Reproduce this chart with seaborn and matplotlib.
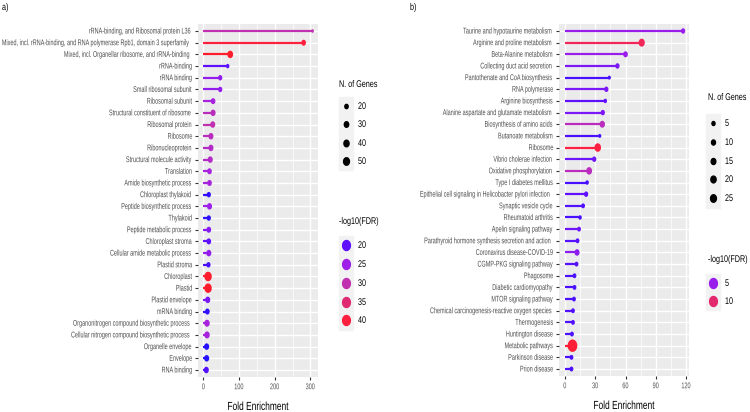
import numpy as np
import pandas as pd
import matplotlib
matplotlib.use("Agg")
import matplotlib.pyplot as plt
import seaborn as sns
from matplotlib import patheffects
from matplotlib.colors import LinearSegmentedColormap, Normalize
from matplotlib.lines import Line2D
from matplotlib.patches import Rectangle
from matplotlib.path import Path
from matplotlib.transforms import Affine2D

# ---- data: panel a (GO / keyword enrichment) ----
terms_a = [
    "rRNA-binding, and Ribosomal protein L36",
    "Mixed, incl. rRNA-binding, and RNA polymerase Rpb1, domain 3 superfamily",
    "Mixed, incl. Organellar ribosome, and rRNA-binding",
    "rRNA-binding", "rRNA binding", "Small ribosomal subunit", "Ribosomal subunit",
    "Structural constituent of ribosome", "Ribosomal protein", "Ribosome",
    "Ribonucleoprotein", "Structural molecule activity", "Translation",
    "Amide biosynthetic process", "Chloroplast thylakoid", "Peptide biosynthetic process",
    "Thylakoid", "Peptide metabolic process", "Chloroplast stroma",
    "Cellular amide metabolic process", "Plastid stroma", "Chloroplast", "Plastid",
    "Plastid envelope", "mRNA binding", "Organonitrogen compound biosynthetic process",
    "Cellular nitrogen compound biosynthetic process", "Organelle envelope",
    "Envelope", "RNA binding",
]
fold_a = [306, 281, 75, 68, 47, 47, 27, 27, 26, 21, 21, 19, 17, 17, 15, 17, 15, 15,
          15, 15, 14, 13, 13, 12, 11, 10, 10, 9, 9, 8]
fdr_a = [30, 40, 41, 20, 24, 24, 26, 29, 30, 29, 28, 28, 26, 26, 18, 25, 18, 23, 20,
         24, 19, 41, 41, 22, 18, 26, 26, 17.5, 17.5, 19.5]
genes_a = [15, 34, 50, 21, 29, 29, 34, 39, 39, 39, 39, 39, 34, 34, 29, 39, 29, 34, 34,
           39, 29, 77, 77, 39, 34, 44, 44, 39, 39, 39]

# ---- data: panel b (KEGG pathways) ----
terms_b = [
    "Taurine and hypotaurine metabolism", "Arginine and proline metabolism",
    "Beta-Alanine metabolism", "Collecting duct acid secretion",
    "Pantothenate and CoA biosynthesis", "RNA polymerase", "Arginine biosynthesis",
    "Alanine aspartate and glutamate metabolism", "Biosynthesis of amino acids",
    "Butanoate metabolism", "Ribosome", "Vibrio cholerae infection",
    "Oxidative phosphorylation", "Type I diabetes mellitus",
    "Epithelial cell signaling in Helicobacter pylori infection",
    "Synaptic vesicle cycle", "Rheumatoid arthritis", "Apelin signaling pathway",
    "Parathyroid hormone synthesis secretion and action", "Coronavirus disease-COVID-19",
    "CGMP-PKG signaling pathway", "Phagosome", "Diabetic cardiomyopathy",
    "MTOR signaling pathway", "Chemical carcinogenesis-reactive oxygen species",
    "Thermogenesis", "Huntington disease", "Metabolic pathways", "Parkinson disease",
    "Prion disease",
]
fold_b = [117, 76, 60, 52, 44, 41, 40, 37.5, 37, 34.5, 32.5, 29, 24, 22, 21, 18, 15,
          14, 12.5, 12, 11.5, 9.5, 9.5, 9, 8, 8, 7, 7.5, 6.5, 6.5]
fdr_b = [5, 11, 5, 4, 2.5, 4, 3, 4, 7, 2.5, 12, 3.5, 7, 2.5, 3, 2.7, 2.5, 3.5, 2.8,
         4.5, 2.8, 2.6, 2.6, 2.6, 2.7, 2.7, 2.6, 12.3, 2.6, 2.6]
genes_b = [12, 29, 15, 12, 5, 12, 7, 12, 21, 5, 33, 12, 25, 7, 12, 9, 7, 9, 9, 18, 9,
           9, 9, 9, 9, 9, 9, 74, 9, 9]

size_breaks_a = [20, 30, 40, 50]
fdr_breaks_a = [20, 25, 30, 35, 40]
size_breaks_b = [5, 10, 15, 20, 25]
fdr_breaks_b = [5, 10]

# ---- style ----
plt.rcParams["font.family"] = ["Liberation Sans", "DejaVu Sans"]
fs_tick = 6.0
fs_title = 8.4
fs_leg = 7.0

W, H = 750, 412
cmap = LinearSegmentedColormap.from_list(
    "bluered",
    [(0.0, "#1a10ff"), (0.12, "#6010ff"), (0.32, "#a020e8"), (0.52, "#c030b0"),
     (0.72, "#e02a72"), (0.92, "#ff2040"), (1.0, "#ff1a1a")])

# the reference is squashed horizontally: squashed dots and narrow text
t = np.linspace(0, 2 * np.pi, 64)
ell = Path(np.column_stack([0.78 * np.cos(t), np.sin(t)]))


class Squeeze(patheffects.AbstractPathEffect):
    def __init__(self, fx=0.65, anchor="right"):
        super().__init__()
        self.fx = fx
        self.anchor = anchor

    def draw_path(self, renderer, gc, tpath, affine, rgbFace=None):
        xs = affine.transform(tpath.vertices)[:, 0]
        if self.anchor == "right":
            x0 = xs.max()
        elif self.anchor == "left":
            x0 = xs.min()
        else:
            x0 = 0.5 * (xs.min() + xs.max())
        sq = Affine2D().translate(-x0, 0).scale(self.fx, 1).translate(x0, 0)
        renderer.draw_path(gc, tpath, affine + sq, rgbFace)


SQ = 0.66


def px2diam(p):
    return p / 1.389


def size_scale(b_lo, d_lo, b_hi, d_hi, lo, hi):
    # marker area linear in N. of Genes, pinned to two legend keys (px heights)
    s_lo, s_hi = px2diam(d_lo) ** 2, px2diam(d_hi) ** 2
    slope = (s_hi - s_lo) / (b_hi - b_lo)
    return (s_lo + (lo - b_lo) * slope, s_lo + (hi - b_lo) * slope)


fig = plt.figure(figsize=(W / 100, H / 100), dpi=100)
ax_a = fig.add_axes([198 / W, 1 - 377 / H, 120 / W, 353 / H])
ax_b = fig.add_axes([559 / W, 1 - 376 / H, 130 / W, 352 / H])


def lollipop(ax, terms, fold, fdr, genes, cnorm, snorm, srange, xmax, major, minor):
    df = pd.DataFrame({"term": terms, "fold": fold, "fdr": fdr, "genes": genes})
    norm = Normalize(*cnorm)
    ax.set_facecolor("#EBEBEB")
    ax.hlines(df["term"], 0, df["fold"], colors=cmap(norm(df["fdr"].values)),
              lw=1.6, zorder=2)
    sns.scatterplot(data=df, x="fold", y="term", hue="fdr", palette=cmap,
                    hue_norm=cnorm, size="genes", sizes=srange, size_norm=snorm,
                    marker=ell, linewidth=0, legend=False, zorder=3, ax=ax)
    n = len(terms)
    ax.set_ylim(n - 0.4, -0.6)
    ax.set_xlim(-0.05 * xmax, 1.05 * xmax)
    ax.set_xticks(major)
    ax.set_xticks(minor, minor=True)
    ax.grid(True, which="major", color="white", lw=1.0)
    ax.grid(True, which="minor", axis="x", color="white", lw=0.5)
    ax.set_axisbelow(True)
    for s in ax.spines.values():
        s.set_visible(False)
    ax.tick_params(axis="both", which="major", length=2.2, width=0.8,
                   color="#333333", labelcolor="#4D4D4D", labelsize=fs_tick, pad=1.5)
    ax.tick_params(axis="x", which="major", pad=3)
    ax.tick_params(axis="x", which="minor", length=0)
    ax.set_ylabel("")
    ax.set_xlabel("Fold Enrichment", fontsize=fs_title, color="black", labelpad=7,
                  path_effects=[Squeeze(0.72, "center")])


snorm_a = (10, 80)
snorm_b = (3, 80)
srange_a = size_scale(20, 4.3, 50, 7.5, *snorm_a)
srange_b = size_scale(5, 4.0, 25, 7.5, *snorm_b)
lollipop(ax_a, terms_a, fold_a, fdr_a, genes_a, (17, 42), snorm_a, srange_a, 306,
         [0, 100, 200, 300], [50, 150, 250])
lollipop(ax_b, terms_b, fold_b, fdr_b, genes_b, (1.6, 13), snorm_b, srange_b, 117,
         [0, 30, 60, 90, 120], [15, 45, 75, 105])


def fpos(x, y):
    return x / W, 1 - y / H


def ftext(x, y, s, size):
    fig.text(*fpos(x, y), s, ha="left", va="center", fontsize=size,
             path_effects=[Squeeze(SQ + 0.08, "left")])


def legend(title, tx, ty, kx, ys, labels, diams, colors):
    ftext(tx, ty, title, fs_leg)
    step = ys[1] - ys[0]
    top, bot = ys[0] - step / 2, ys[-1] + step / 2
    fig.patches.append(Rectangle(fpos(kx - 7, bot), 14 / W, (bot - top) / H,
                                 transform=fig.transFigure, color="#F2F2F2", zorder=0))
    for y, lab, d, c in zip(ys, labels, diams, colors):
        fig.add_artist(Line2D([kx / W], [1 - y / H], marker=ell, markersize=d,
                              color=c, linestyle="", transform=fig.transFigure))
        ftext(kx + 12, y, str(lab), fs_leg)


def size_diams(breaks, snorm, srange):
    lo, hi = snorm
    return [np.sqrt(srange[0] + (b - lo) / (hi - lo) * (srange[1] - srange[0]))
            for b in breaks]


legend("N. of Genes", 339, 84, 346, [106, 124, 143, 161], size_breaks_a,
       size_diams(size_breaks_a, snorm_a, srange_a), ["black"] * 4)
norm_a = Normalize(17, 42)
legend("-log10(FDR)", 339, 221, 346, [245, 264, 283, 302, 320], fdr_breaks_a,
       [px2diam(10)] * 5, [cmap(norm_a(v)) for v in fdr_breaks_a])

legend("N. of Genes", 708, 97, 713, [123, 142, 161, 179, 198], size_breaks_b,
       size_diams(size_breaks_b, snorm_b, srange_b), ["black"] * 5)
norm_b = Normalize(1.6, 13)
legend("-log10(FDR)", 708, 259, 713, [283, 301], fdr_breaks_b,
       [px2diam(10)] * 2, [cmap(norm_b(v)) for v in fdr_breaks_b])

ftext(2, 7, "a)", fs_leg)
ftext(410, 7, "b)", fs_leg)

# narrow tick labels, like the squashed reference
fig.canvas.draw()
for ax in (ax_a, ax_b):
    for lab in ax.get_yticklabels():
        lab.set_path_effects([Squeeze(SQ, "right")])
    for lab in ax.get_xticklabels():
        lab.set_path_effects([Squeeze(SQ, "center")])

fig.savefig("out.png", dpi=100)
